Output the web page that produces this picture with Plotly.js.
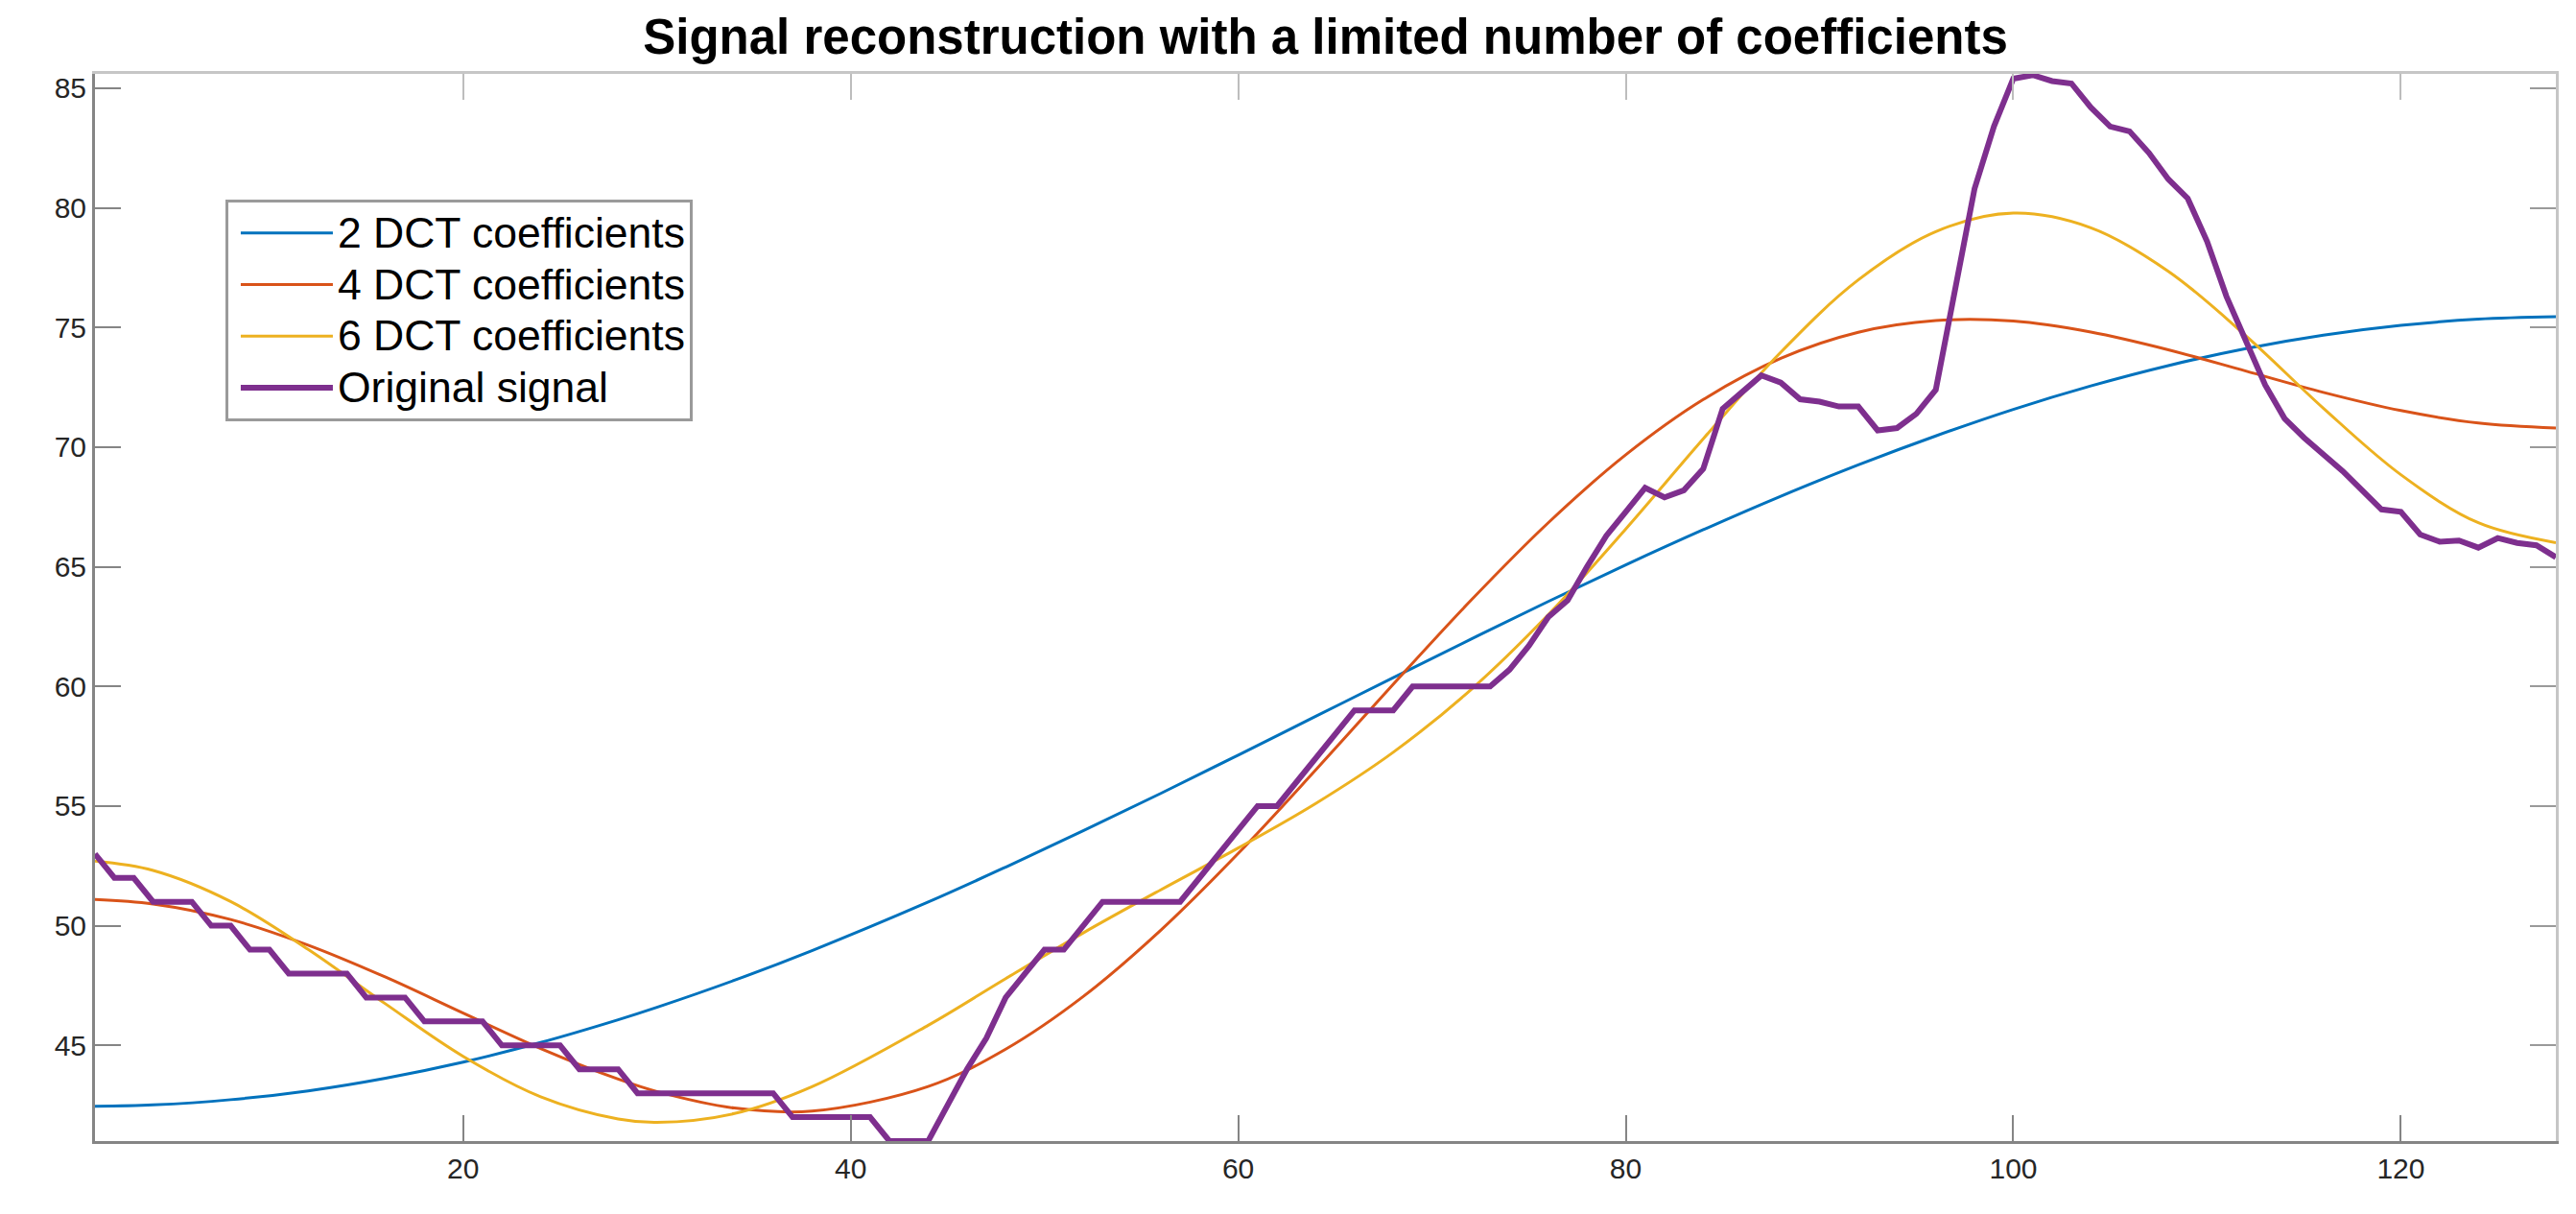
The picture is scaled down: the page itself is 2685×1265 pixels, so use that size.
<!DOCTYPE html>
<html>
<head>
<meta charset="utf-8">
<script src="https://cdn.plot.ly/plotly-3.0.1.min.js"></script>
<style>
html,body{margin:0;padding:0;background:#fff;overflow:hidden}
#chart{width:2685px;height:1265px}
</style>
</head>
<body>
<div id="chart"></div>
<script>
// Sample positions at which the smooth reconstructions were read
const sampleX = [1, 4, 8, 12, 16, 20, 24, 28, 30, 34, 38, 44, 48, 52, 56, 60, 64, 68, 72, 76, 80, 84, 88, 92, 96, 100, 104, 108, 112, 116, 120, 124, 128];
const dct2 = [42.45, 42.51, 42.73, 43.10, 43.63, 44.30, 45.12, 46.07, 46.59, 47.72, 48.96, 50.99, 52.45, 53.97, 55.53, 57.13, 58.75, 60.37, 61.97, 63.55, 65.08, 66.55, 67.95, 69.26, 70.47, 71.58, 72.56, 73.41, 74.12, 74.68, 75.09, 75.35, 75.45];
const dct4 = [51.10, 50.91, 50.26, 49.19, 47.85, 46.35, 44.87, 43.59, 43.07, 42.38, 42.25, 43.28, 44.84, 47.04, 49.81, 53.02, 56.51, 60.09, 63.59, 66.84, 69.68, 71.99, 73.71, 74.80, 75.29, 75.27, 74.81, 74.07, 73.18, 72.29, 71.53, 71.01, 70.80];
const dct6 = [52.70, 52.31, 51.01, 49.01, 46.73, 44.54, 42.85, 41.92, 41.78, 42.15, 43.27, 45.84, 47.79, 49.70, 51.50, 53.25, 55.11, 57.25, 59.86, 63.00, 66.58, 70.35, 73.97, 76.99, 79.01, 79.78, 79.17, 77.35, 74.66, 71.63, 68.85, 66.84, 66.01];

// Original signal, samples 1..128
const signal = [
  53, 52, 52, 51, 51, 51, 50, 50, 49, 49,
  48, 48, 48, 48, 47, 47, 47, 46, 46, 46,
  46, 45, 45, 45, 45, 44, 44, 44, 43, 43,
  43, 43, 43, 43, 43, 43, 42, 42, 42, 42,
  42, 41, 41, 41, 42.5, 44, 45.3, 47, 48, 49,
  49, 50, 51, 51, 51, 51, 51, 52, 53, 54,
  55, 55, 56, 57, 58, 59, 59, 59, 60, 60,
  60, 60, 60, 60.7, 61.7, 62.9, 63.6, 65, 66.3, 67.3,
  68.3, 67.9, 68.2, 69.1, 71.6, 72.3, 73.0, 72.7, 72.0, 71.9,
  71.7, 71.7, 70.7, 70.8, 71.4, 72.4, 76.5, 80.8, 83.4, 85.4,
  85.55, 85.3, 85.2, 84.2, 83.4, 83.2, 82.3, 81.2, 80.4, 78.6,
  76.3, 74.4, 72.6, 71.2, 70.4, 69.7, 69.0, 68.2, 67.4, 67.3,
  66.35, 66.05, 66.1, 65.8, 66.2, 66.0, 65.9, 65.4
];
const signalX = signal.map((v, i) => i + 1);

const seriesNames = ['2 DCT coefficients', '4 DCT coefficients', '6 DCT coefficients', 'Original signal'];
const xTicks = [20, 40, 60, 80, 100, 120];
const yTicks = [45, 50, 55, 60, 65, 70, 75, 80, 85];
const xRange = [1, 128];
const yRange = [41, 85.6];

const FONT = 'Liberation Sans, Arial, Helvetica, sans-serif';
const colors = ['#0072BD', '#D95319', '#EDB120', '#7E2F8E'];
const legendLabel = s => '<span style="font-size:44.5px">' + s + '</span>';

const traces = [
  {x: sampleX, y: dct2, name: legendLabel(seriesNames[0]), mode: 'lines', line: {color: colors[0], width: 3, shape: 'spline'}},
  {x: sampleX, y: dct4, name: legendLabel(seriesNames[1]), mode: 'lines', line: {color: colors[1], width: 3, shape: 'spline'}},
  {x: sampleX, y: dct6, name: legendLabel(seriesNames[2]), mode: 'lines', line: {color: colors[2], width: 3, shape: 'spline'}},
  {x: signalX, y: signal, name: legendLabel(seriesNames[3]), mode: 'lines', line: {color: colors[3], width: 6}},
  // carrier for the top/right box axes (fully transparent)
  {x: signalX, y: signal, xaxis: 'x2', yaxis: 'y2', mode: 'lines', line: {width: 0, color: 'rgba(0,0,0,0)'},
   opacity: 0, showlegend: false, hoverinfo: 'skip'}
];

const dark = '#858585', light = '#c6c6c6';
const tickFont = {family: FONT, size: 30, color: '#262626'};

const layout = {
  width: 2685, height: 1265,
  margin: {l: 99, r: 21, t: 77, b: 76, pad: 0},
  paper_bgcolor: '#fff', plot_bgcolor: '#fff',
  showlegend: true,
  title: {
    text: 'Signal reconstruction with a limited number of coefficients',
    font: {family: FONT, size: 51, color: '#000', weight: 700},
    x: 0.5, xref: 'paper', xanchor: 'center',
    y: 0.970, yref: 'container', yanchor: 'middle'
  },
  xaxis: {
    range: xRange, tickvals: xTicks, ticks: 'inside', ticklen: 27, tickwidth: 2, tickcolor: dark,
    showline: true, linecolor: dark, linewidth: 3, showgrid: false, zeroline: false,
    tickfont: tickFont, mirror: false
  },
  yaxis: {
    range: yRange, tickvals: yTicks, ticks: 'inside', ticklen: 27, tickwidth: 2, tickcolor: dark,
    showline: true, linecolor: dark, linewidth: 3, showgrid: false, zeroline: false,
    tickfont: tickFont, mirror: false
  },
  xaxis2: {
    overlaying: 'x', side: 'top', range: xRange, tickvals: xTicks, ticks: 'inside', ticklen: 27, tickwidth: 2,
    tickcolor: '#bdbdbd', showline: true, linecolor: light, linewidth: 3, showgrid: false, zeroline: false,
    showticklabels: false
  },
  yaxis2: {
    overlaying: 'y', side: 'right', range: yRange, tickvals: yTicks, ticks: 'inside', ticklen: 27, tickwidth: 2,
    tickcolor: '#9a9a9a', showline: true, linecolor: light, linewidth: 3, showgrid: false, zeroline: false,
    showticklabels: false
  },
  legend: {
    x: 0.053, y: 0.8822, xanchor: 'left', yanchor: 'top',
    bgcolor: '#fff', bordercolor: '#9a9a9a', borderwidth: 3,
    font: {family: FONT, size: 39, color: '#000'},
    itemwidth: 96, indentation: 8, entrywidth: 485
  }
};

Plotly.newPlot('chart', traces, layout, {displayModeBar: false, staticPlot: true});
</script>
</body>
</html>
